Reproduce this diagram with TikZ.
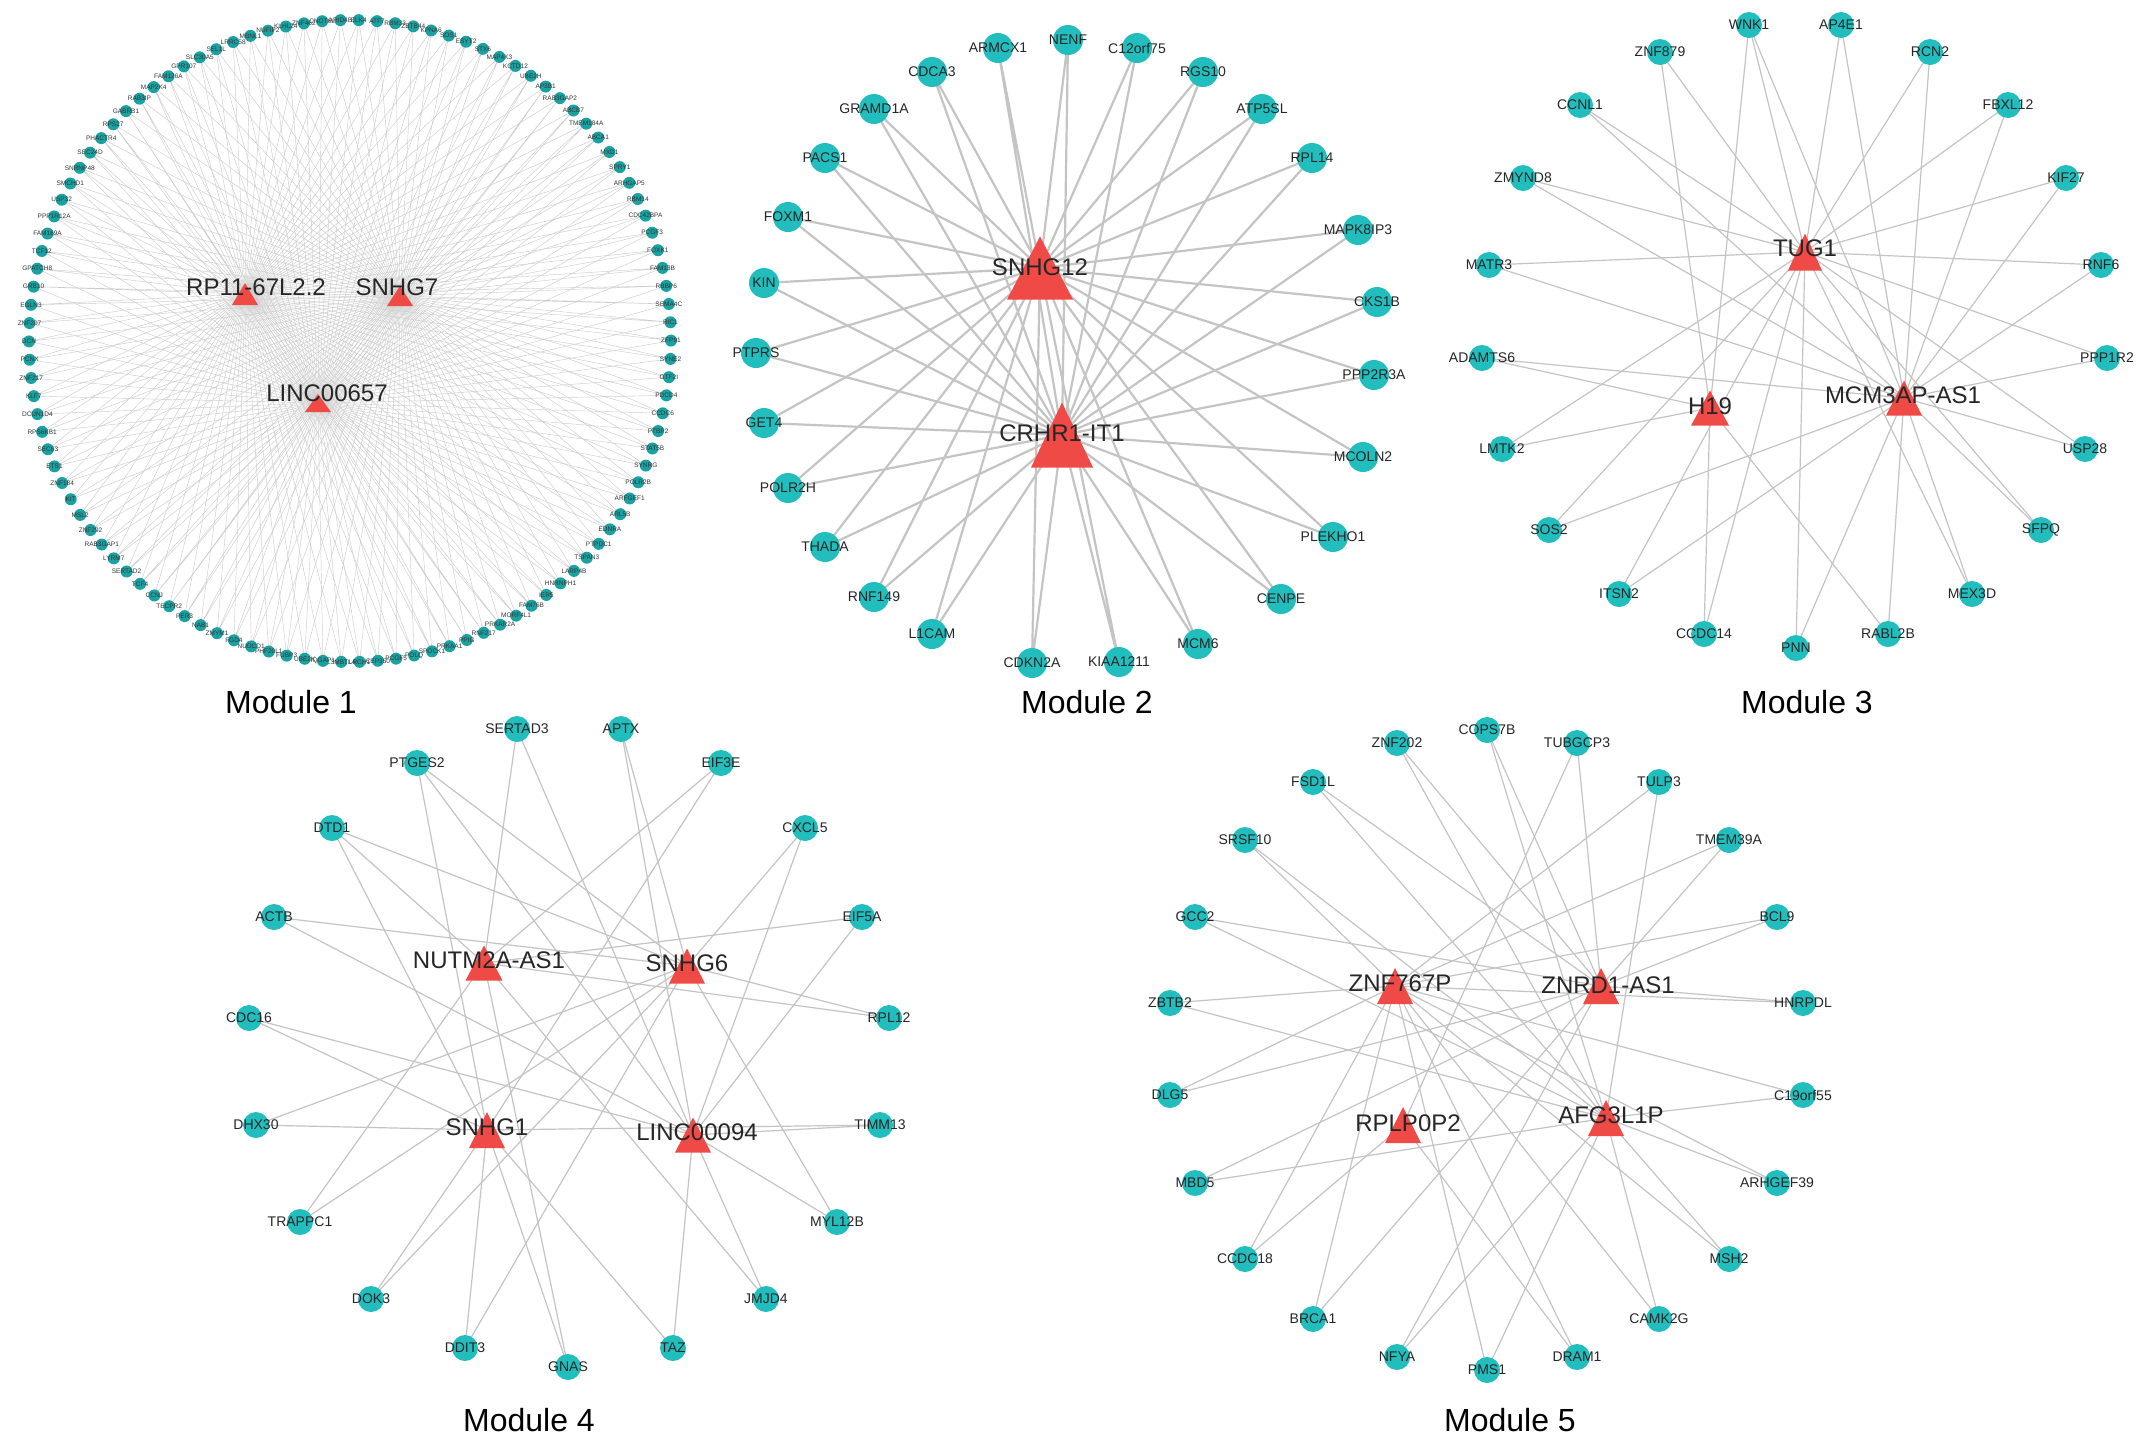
\documentclass[tikz,border=0pt]{standalone}
\usepackage{fontspec}
\setmainfont{Liberation Sans}
\pgfdeclarelayer{bg}
\pgfdeclarelayer{paper}
\pgfsetlayers{paper,bg,main}
\definecolor{gcyan}{RGB}{34,190,190}
\definecolor{gcyanA}{RGB}{26,162,162}
\definecolor{hubred}{RGB}{240,74,70}
\definecolor{edgegray}{RGB}{196,196,196}
\definecolor{edgelight}{RGB}{205,205,205}
\newcommand\hubtri[5]{%
  \coordinate (#1) at (#2,#3);
  \fill[hubred] (#2-#4/2,#3+#5/2) -- (#2,#3-#5/2) -- (#2+#4/2,#3+#5/2) -- cycle;}
\tikzset{
  lblA/.style={font=\fontsize{6.5}{7}\selectfont, text=black!80, inner sep=0pt},
  lblB/.style={font=\fontsize{14}{16}\selectfont, text=black!85, inner sep=0pt},
  gA/.style={circle, fill=gcyanA, minimum size=12pt, inner sep=0pt, label={[lblA]center:#1}},
  gB/.style={circle, fill=gcyan, minimum size=30pt, inner sep=0pt, label={[lblB]center:#1}},
  gC/.style={circle, fill=gcyan, minimum size=26pt, inner sep=0pt, label={[lblB]center:#1}},
  hublbl/.style={font=\fontsize{24}{26}\selectfont, text=black!85, inner sep=0pt},
  modlbl/.style={font=\fontsize{32}{36}\selectfont, text=black, inner sep=0pt},
  eA/.style={draw=edgelight, line width=0.45pt},
  eB/.style={draw=edgegray, line width=2.2pt},
  eC/.style={draw=edgegray, line width=1.2pt},
}
\begin{document}
\begin{tikzpicture}[x=1pt,y=-1pt]
\useasboundingbox (0,0) rectangle (2150,1444);
\begin{pgfonlayer}{paper}
\fill[white] (0,0) rectangle (2150,1444);
\end{pgfonlayer}

% ---------------- Module 1 ----------------
\foreach \nm [count=\i from 0] in {ZNF207,EGLN3,GRB10,GPATCH8,TCF12,FAM169A,PPP1R12A,USP32,SMCHD1,SNRNP48,SEC24D,PHACTR4,RPS27,GABRB1,RAB3IP,MAP2K4,FAM126A,GPR107,SLC30A5,SEL1L,LRRC58,MBNL1,NUFIP2,KLHL24,ZNF462,CNOT6L,ARID4B,ELK4,ATF7,RBM33,ZBTB44,KPNA6,SOS1,ESYT2,STX6,MAP4K3,KCTD12,UBE2H,AP3B1,RAB3GAP2,ABCB7,TMEM184A,ABCA1,MXD1,SPRY1,ARHGAP5,RBM14,CDC42BPA,PCGF3,FOXK1,FAM13B,RBBP6,SEMA4C,RIC1,ZFP91,SYNE2,GTF2I,PDCD4,CCDC6,PTBP2,STAT5B,SYNRG,POLR2B,ARFGEF1,ARL5B,EDNRA,PTPDC1,TSPAN3,LARP4B,HNRNPH1,IER5,FAM76B,MORF4L1,PRKAR2A,RNF217,PPIG,PRKAA1,SPOCK1,POLQ,PCGF5,CEP350,LRCH1,L3MBTL4,IQGAP1,UBE2K,FUBP3,PHF20L1,NUDCD1,FGD4,ZMYM1,NAB1,PER3,TECPR2,CCNJ,TCF4,SERTAD2,LYRM7,RAB3GAP1,ZNF292,MSL2,KIT,ZNF184,ETS1,SEC63,RPS6KB1,DCUN1D4,KLF7,ZNF217,PCNX,DCN}{
  \pgfmathsetmacro\ang{176.8-3.2727*\i}
  \node[gA=\nm] (m1n\i) at ({350+321*cos(\ang)},{341-321*sin(\ang)}) {};
}
\hubtri{hRP}{245}{294}{26}{22}
\hubtri{hSNHG7}{400}{296}{26}{20}
\hubtri{hLINC657}{318}{403}{26}{18}
\node[hublbl] (lRP) at (256,287) {RP11-67L2.2};
\node[hublbl] (lSNHG7) at (397,287) {SNHG7};
\node[hublbl] (lLINC657) at (327,393) {LINC00657};
\begin{pgfonlayer}{bg}
\foreach \i in {0,...,109}{
  \draw[eA] (m1n\i.center) -- (hRP) (m1n\i.center) -- (hSNHG7) (m1n\i.center) -- (hLINC657);
}
\end{pgfonlayer}

% ---------------- Module 2 ----------------
\node[gB=ARMCX1] (ARMCX1) at (998,48) {};
\node[gB=NENF] (NENF) at (1068,40) {};
\node[gB=C12orf75] (C12orf75) at (1137,48) {};
\node[gB=CDCA3] (CDCA3) at (932,72) {};
\node[gB=RGS10] (RGS10) at (1203,72) {};
\node[gB=GRAMD1A] (GRAMD1A) at (874,109) {};
\node[gB=ATP5SL] (ATP5SL) at (1262,109) {};
\node[gB=PACS1] (PACS1) at (825,158) {};
\node[gB=RPL14] (RPL14) at (1312,158) {};
\node[gB=FOXM1] (FOXM1) at (788,217) {};
\node[gB=MAPK8IP3] (MAPK8IP3) at (1358,230) {};
\node[gB=KIN] (KIN) at (764,283) {};
\node[gB=CKS1B] (CKS1B) at (1377,302) {};
\node[gB=PTPRS] (PTPRS) at (756,353) {};
\node[gB=PPP2R3A] (PPP2R3A) at (1374,375) {};
\node[gB=GET4] (GET4) at (764,423) {};
\node[gB=MCOLN2] (MCOLN2) at (1363,457) {};
\node[gB=POLR2H] (POLR2H) at (788,488) {};
\node[gB=PLEKHO1] (PLEKHO1) at (1333,537) {};
\node[gB=THADA] (THADA) at (825,547) {};
\node[gB=CENPE] (CENPE) at (1281,599) {};
\node[gB=RNF149] (RNF149) at (874,597) {};
\node[gB=L1CAM] (L1CAM) at (932,634) {};
\node[gB=MCM6] (MCM6) at (1198,644) {};
\node[gB=CDKN2A] (CDKN2A) at (1032,663) {};
\node[gB=KIAA1211] (KIAA1211) at (1119,662) {};
\hubtri{hSNHG12}{1040}{268}{66}{63}
\hubtri{hCRHR}{1062}{435}{62}{65}
\node[hublbl] (lSNHG12) at (1040,267) {SNHG12};
\node[hublbl] (lCRHR) at (1062,433) {CRHR1-IT1};
\begin{pgfonlayer}{bg}
\foreach \g in {ARMCX1,NENF,C12orf75,CDCA3,RGS10,GRAMD1A,ATP5SL,PACS1,RPL14,FOXM1,MAPK8IP3,KIN,CKS1B,PTPRS,PPP2R3A,GET4,MCOLN2,POLR2H,PLEKHO1,THADA,CENPE,RNF149,L1CAM,MCM6,CDKN2A,KIAA1211}{
  \draw[eB] (\g.center) -- (hSNHG12) (\g.center) -- (hCRHR);
}
\end{pgfonlayer}

% ---------------- Module 3 ----------------
\node[gC=WNK1] (WNK1) at (1749,25) {};
\node[gC=AP4E1] (AP4E1) at (1841,25) {};
\node[gC=ZNF879] (ZNF879) at (1660,52) {};
\node[gC=RCN2] (RCN2) at (1930,52) {};
\node[gC=CCNL1] (CCNL1) at (1580,105) {};
\node[gC=FBXL12] (FBXL12) at (2008,105) {};
\node[gC=ZMYND8] (ZMYND8) at (1523,178) {};
\node[gC=KIF27] (KIF27) at (2066,178) {};
\node[gC=MATR3] (MATR3) at (1489,265) {};
\node[gC=RNF6] (RNF6) at (2101,265) {};
\node[gC=ADAMTS6] (ADAMTS6) at (1482,358) {};
\node[gC=PPP1R2] (PPP1R2) at (2107,358) {};
\node[gC=LMTK2] (LMTK2) at (1502,449) {};
\node[gC=USP28] (USP28) at (2085,449) {};
\node[gC=SOS2] (SOS2) at (1549,530) {};
\node[gC=SFPQ] (SFPQ) at (2041,530) {};
\node[gC=ITSN2] (ITSN2) at (1619,594) {};
\node[gC=MEX3D] (MEX3D) at (1972,594) {};
\node[gC=CCDC14] (CCDC14) at (1704,634) {};
\node[gC=RABL2B] (RABL2B) at (1888,634) {};
\node[gC=PNN] (PNN) at (1796,648) {};
\hubtri{hTUG1}{1805}{252}{34}{37}
\hubtri{hH19}{1710}{408}{38}{35}
\hubtri{hMCM}{1904}{398}{36}{35}
\node[hublbl] (lTUG1) at (1805,248) {TUG1};
\node[hublbl] (lH19) at (1710,406) {H19};
\node[hublbl] (lMCM) at (1903,395) {MCM3AP-AS1};
\begin{pgfonlayer}{bg}
\foreach \g in {WNK1,AP4E1,ZNF879,RCN2,CCNL1,FBXL12,ZMYND8,KIF27,MATR3,RNF6,PPP1R2,LMTK2,SOS2,ITSN2,CCDC14,PNN,MEX3D,SFPQ,USP28}{
  \draw[eC] (\g.center) -- (hTUG1);}
\foreach \g in {WNK1,ZNF879,ADAMTS6,LMTK2,RABL2B,CCDC14}{
  \draw[eC] (\g.center) -- (hH19);}
\foreach \g in {WNK1,AP4E1,RCN2,CCNL1,FBXL12,ZMYND8,KIF27,MATR3,RNF6,PPP1R2,ADAMTS6,SOS2,ITSN2,PNN,RABL2B,MEX3D,SFPQ,USP28}{
  \draw[eC] (\g.center) -- (hMCM);}
\end{pgfonlayer}

% ---------------- Module 4 ----------------
\node[gC=SERTAD3] (SERTAD3) at (517,729) {};
\node[gC=APTX] (APTX) at (621,729) {};
\node[gC=PTGES2] (PTGES2) at (417,763) {};
\node[gC=EIF3E] (EIF3E) at (721,763) {};
\node[gC=DTD1] (DTD1) at (332,828) {};
\node[gC=CXCL5] (CXCL5) at (805,828) {};
\node[gC=ACTB] (ACTB) at (274,917) {};
\node[gC=EIF5A] (EIF5A) at (862,917) {};
\node[gC=CDC16] (CDC16) at (249,1018) {};
\node[gC=RPL12] (RPL12) at (889,1018) {};
\node[gC=DHX30] (DHX30) at (256,1125) {};
\node[gC=TIMM13] (TIMM13) at (880,1125) {};
\node[gC=TRAPPC1] (TRAPPC1) at (300,1222) {};
\node[gC=MYL12B] (MYL12B) at (837,1222) {};
\node[gC=DOK3] (DOK3) at (371,1299) {};
\node[gC=JMJD4] (JMJD4) at (766,1299) {};
\node[gC=DDIT3] (DDIT3) at (465,1348) {};
\node[gC=TAZ] (TAZ) at (673,1348) {};
\node[gC=GNAS] (GNAS) at (568,1367) {};
\hubtri{hNUTM}{484}{963}{37}{35}
\hubtri{hSNHG6}{687}{966}{36}{35}
\hubtri{hSNHG1}{487}{1130}{36}{36}
\hubtri{hLINC94}{693}{1135}{36}{35}
\node[hublbl] (lNUTM) at (489,960) {NUTM2A-AS1};
\node[hublbl] (lSNHG6) at (687,963) {SNHG6};
\node[hublbl] (lSNHG1) at (487,1127) {SNHG1};
\node[hublbl] (lLINC94) at (697,1132) {LINC00094};
\begin{pgfonlayer}{bg}
\foreach \g in {SERTAD3,EIF3E,DTD1,EIF5A,RPL12,TRAPPC1,JMJD4,GNAS}{
  \draw[eC] (\g.center) -- (hNUTM);}
\foreach \g in {APTX,PTGES2,DTD1,CXCL5,ACTB,RPL12,DHX30,TRAPPC1,MYL12B,DOK3,DDIT3}{
  \draw[eC] (\g.center) -- (hSNHG6);}
\foreach \g in {PTGES2,EIF3E,DTD1,CDC16,DHX30,TIMM13,DOK3,DDIT3,GNAS,TAZ}{
  \draw[eC] (\g.center) -- (hSNHG1);}
\foreach \g in {SERTAD3,APTX,PTGES2,CXCL5,ACTB,EIF5A,CDC16,TIMM13,MYL12B,JMJD4,TAZ}{
  \draw[eC] (\g.center) -- (hLINC94);}
\end{pgfonlayer}

% ---------------- Module 5 ----------------
\node[gC=COPS7B] (COPS7B) at (1487,730) {};
\node[gC=ZNF202] (ZNF202) at (1397,743) {};
\node[gC=TUBGCP3] (TUBGCP3) at (1577,743) {};
\node[gC=FSD1L] (FSD1L) at (1313,782) {};
\node[gC=TULP3] (TULP3) at (1659,782) {};
\node[gC=SRSF10] (SRSF10) at (1245,840) {};
\node[gC=TMEM39A] (TMEM39A) at (1729,840) {};
\node[gC=GCC2] (GCC2) at (1195,917) {};
\node[gC=BCL9] (BCL9) at (1777,917) {};
\node[gC=ZBTB2] (ZBTB2) at (1170,1003) {};
\node[gC=HNRPDL] (HNRPDL) at (1803,1003) {};
\node[gC=DLG5] (DLG5) at (1170,1095) {};
\node[gC=C19orf55] (C19orf55) at (1803,1095) {};
\node[gC=MBD5] (MBD5) at (1195,1183) {};
\node[gC=ARHGEF39] (ARHGEF39) at (1777,1183) {};
\node[gC=CCDC18] (CCDC18) at (1245,1259) {};
\node[gC=MSH2] (MSH2) at (1729,1259) {};
\node[gC=BRCA1] (BRCA1) at (1313,1319) {};
\node[gC=CAMK2G] (CAMK2G) at (1659,1319) {};
\node[gC=NFYA] (NFYA) at (1397,1357) {};
\node[gC=DRAM1] (DRAM1) at (1577,1357) {};
\node[gC=PMS1] (PMS1) at (1487,1370) {};
\hubtri{hZNF767}{1395}{986}{36}{36}
\hubtri{hZNRD}{1601}{986}{36}{36}
\hubtri{hRPLP}{1403}{1125}{36}{36}
\hubtri{hAFG}{1606}{1118}{36}{36}
\node[hublbl] (lZNF767) at (1400,983) {ZNF767P};
\node[hublbl] (lZNRD) at (1608,985) {ZNRD1-AS1};
\node[hublbl] (lRPLP) at (1408,1123) {RPLP0P2};
\node[hublbl] (lAFG) at (1611,1115) {AFG3L1P};
\begin{pgfonlayer}{bg}
\foreach \g in {TULP3,SRSF10,TMEM39A,BCL9,ZBTB2,HNRPDL,DLG5,C19orf55,ARHGEF39,CCDC18,MSH2,BRCA1,CAMK2G,PMS1,DRAM1}{
  \draw[eC] (\g.center) -- (hZNF767);}
\foreach \g in {COPS7B,ZNF202,TUBGCP3,FSD1L,TMEM39A,GCC2,BCL9,HNRPDL,DLG5,MBD5,BRCA1,NFYA}{
  \draw[eC] (\g.center) -- (hZNRD);}
\foreach \g in {TUBGCP3,CCDC18,DRAM1}{
  \draw[eC] (\g.center) -- (hRPLP);}
\foreach \g in {COPS7B,ZNF202,FSD1L,TULP3,SRSF10,GCC2,ZBTB2,C19orf55,MBD5,ARHGEF39,MSH2,CAMK2G,NFYA,PMS1}{
  \draw[eC] (\g.center) -- (hAFG);}
\end{pgfonlayer}

% ---------------- Module titles ----------------
\node[modlbl] (t1) at (291,702) {Module 1};
\node[modlbl] (t2) at (1087,702) {Module 2};
\node[modlbl] (t3) at (1807,702) {Module 3};
\node[modlbl] (t4) at (529,1420) {Module 4};
\node[modlbl] (t5) at (1510,1420) {Module 5};
\end{tikzpicture}
\end{document}
